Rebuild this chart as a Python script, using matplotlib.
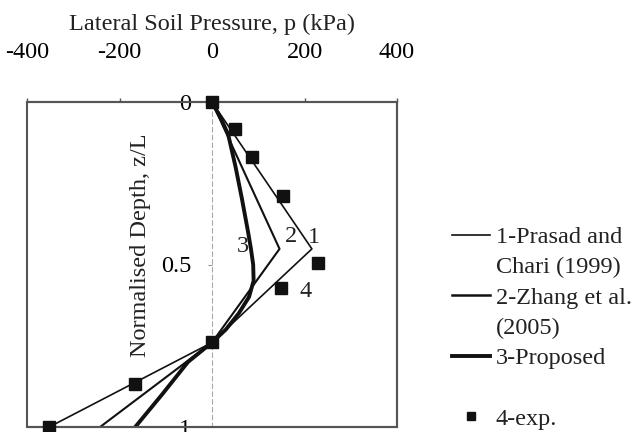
import numpy as np
import matplotlib
matplotlib.use('Agg')
import matplotlib.pyplot as plt
from matplotlib.lines import Line2D

plt.rcParams['font.family'] = ['Liberation Serif', 'DejaVu Serif']
plt.rcParams['font.size'] = 17.5

# normalised depth z/L and lateral soil pressure p (kPa)
z_prasad = [0.0, 0.452, 0.74, 1.0]
p_prasad = [0, 216, 0, -352]

z_zhang = [0.0, 0.452, 0.74, 1.0]
p_zhang = [0, 146, 0, -242]

z_prop = [0.0, 0.05, 0.1, 0.2, 0.3, 0.4, 0.45, 0.5, 0.55, 0.6, 0.65, 0.7, 0.74, 0.8, 0.9, 1.0]
p_prop = [0, 19, 35, 51, 65, 78, 84, 89, 90, 80, 58, 30, 0, -52, -108, -166]

z_exp = [0.0, 0.083, 0.17, 0.29, 0.494, 0.571, 0.738, 0.867, 1.0]
p_exp = [0, 50, 86, 153, 229, 149, 0, -166, -352]

x_ticks = [-400, -200, 0, 200, 400]
y_ticks = [0, 0.5, 1]

# curve numbers placed next to the lines
tag_text = ['1', '2', '3', '4']
tag_p = [208, 158, 54, 190]
tag_z = [0.417, 0.414, 0.444, 0.583]

ink = '#111111'

fig = plt.figure(figsize=(6.35, 4.32), dpi=100)
ax = fig.add_axes([27/635, 1 - 427/432, 370/635, 325/432])

ax.plot(p_prasad, z_prasad, color=ink, lw=1.2)
ax.plot(p_zhang, z_zhang, color=ink, lw=1.5)
ax.plot(p_prop, z_prop, color=ink, lw=2.8)
ax.plot(p_exp, z_exp, ls='none', marker='s', ms=8.5, color=ink, clip_on=False, zorder=5)

for t, px, pz in zip(tag_text, tag_p, tag_z):
    ax.text(px, pz, t, ha='left', va='center', color='#222')

ax.set_xlim(-400, 400)
ax.set_ylim(1, 0)
ax.set_xticks(x_ticks)
ax.set_xticklabels([str(v) for v in x_ticks])
ax.set_yticks(y_ticks)
ax.set_yticklabels(['0', '0.5', '1'])

ax.xaxis.tick_top()
ax.xaxis.set_label_position('top')
ax.tick_params(axis='x', length=3, width=1, color='#555', pad=25)
ax.tick_params(axis='y', length=3, width=0.8, color='#999', pad=12)
ax.set_xlabel('Lateral Soil Pressure, p (kPa)', labelpad=9, color='#222')
ax.set_ylabel('Normalised Depth, z/L', color='#222')
ax.yaxis.set_label_coords(0.335, 0.56)

# y axis runs through p = 0, box drawn by the axes patch
ax.spines['left'].set_position(('data', 0))
ax.spines['left'].set_linestyle((0, (4, 3)))
ax.spines['left'].set_color('#aaa')
ax.spines['left'].set_linewidth(0.8)
for s in ['top', 'right', 'bottom']:
    ax.spines[s].set_color('#555')
    ax.spines[s].set_linewidth(1.5)
ax.patch.set_edgecolor('#555')
ax.patch.set_linewidth(1.5)

handles = [
    Line2D([], [], color=ink, lw=1.2),
    Line2D([], [], color='none'),
    Line2D([], [], color=ink, lw=1.8),
    Line2D([], [], color='none'),
    Line2D([], [], color=ink, lw=2.8),
    Line2D([], [], color='none'),
    Line2D([], [], ls='none', marker='s', ms=6, color=ink),
]
labels = ['1-Prasad and', 'Chari (1999)', '2-Zhang et al.', '(2005)', '3-Proposed', '', '4-exp.']
fig.legend(handles, labels, loc='upper left', bbox_to_anchor=(452/635, 1 - 226/432),
           frameon=False, borderpad=0, borderaxespad=0, handlelength=1.55,
           handletextpad=0.25, labelspacing=0.34, labelcolor='#222')

fig.savefig('out.png', dpi=100)
